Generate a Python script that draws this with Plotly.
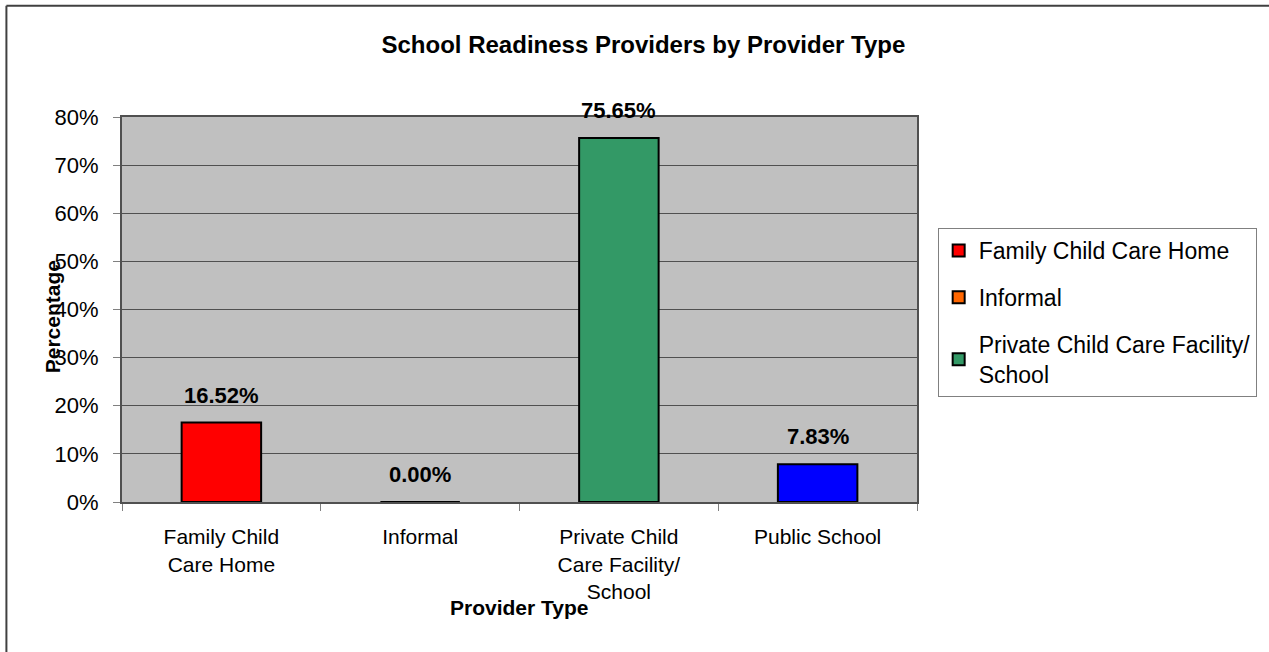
import plotly.graph_objects as go

categories = ["Family Child<br>Care Home", "Informal", "Private Child<br>Care Facility/<br>School", "Public School"]
series_names = ["Family Child Care Home", "Informal", "Private Child Care Facility/<br>School", "Public School"]
values = [16.52, 0.00, 75.65, 7.83]
colors = ["#FF0000", "#FF6600", "#339966", "#0000FF"]
show_in_legend = [True, True, True, False]
y_ticks = [0, 10, 20, 30, 40, 50, 60, 70, 80]
y_tick_labels = [f"{v}%" for v in y_ticks]

FONT = "Liberation Sans, Arial, sans-serif"

fig = go.Figure()
for i, cat in enumerate(categories):
    fig.add_trace(go.Bar(
        x=[cat], y=[values[i]], name=series_names[i],
        marker=dict(color=colors[i], line=dict(color="#000000", width=2)),
        width=0.4, showlegend=show_in_legend[i], legendgroup=f"g{i}",
        hoverinfo="skip",
    ))
    fig.add_annotation(x=cat, y=values[i], text=f"<b>{values[i]:.2f}%</b>",
                       showarrow=False, yanchor="bottom", yshift=13,
                       font=dict(family=FONT, size=22, color="#000000"))

fig.add_annotation(x=-0.088, y=0.48, xref="paper", yref="paper", text="<b>Percentage</b>",
                   textangle=-90, showarrow=False, xanchor="center", yanchor="middle",
                   font=dict(family=FONT, size=21, color="#000000"))
fig.add_annotation(x=0.5, y=-0.275, xref="paper", yref="paper", text="<b>Provider Type</b>",
                   showarrow=False, xanchor="center", yanchor="middle",
                   font=dict(family=FONT, size=21, color="#000000"))

# outer frame
fig.add_shape(type="line", xref="paper", yref="paper", x0=-0.1454, x1=1.5, y0=1.2888, y1=1.2888,
              line=dict(color="#404040", width=2))
fig.add_shape(type="line", xref="paper", yref="paper", x0=-0.1454, x1=-0.1454, y0=1.2888, y1=-0.5,
              line=dict(color="#404040", width=2))

fig.update_layout(
    width=1269, height=652,
    margin=dict(l=122, r=349, t=117, b=150),
    paper_bgcolor="#FFFFFF", plot_bgcolor="#C0C0C0",
    bargap=0.6,
    title=dict(text="<b>School Readiness Providers by Provider Type</b>", x=0.507, xref="container",
               xanchor="center", y=0.931, yref="container", yanchor="middle",
               font=dict(family=FONT, size=24, color="#000000")),
    font=dict(family=FONT, size=22, color="#000000"),
    legend=dict(x=1.026, y=0.7117, xanchor="left", yanchor="top",
                bordercolor="#808080", borderwidth=1, bgcolor="#FFFFFF",
                font=dict(family=FONT, size=23, color="#000000"),
                tracegroupgap=14, traceorder="grouped"),
    xaxis=dict(type="category", categoryorder="array", categoryarray=categories,
               showline=True, linecolor="#505050", linewidth=2, mirror=True,
               ticks="outside", ticklen=7, tickcolor="#808080", tickson="boundaries",
               ticklabelstandoff=15, tickfont=dict(family=FONT, size=21),
               showgrid=False, fixedrange=True),
    yaxis=dict(range=[0, 80], tickvals=y_ticks, ticktext=y_tick_labels,
               showline=True, linecolor="#505050", linewidth=2, mirror=True,
               ticks="outside", ticklen=7, tickcolor="#808080",
               ticklabelstandoff=10, tickfont=dict(family=FONT, size=22),
               showgrid=True, gridcolor="#505050", gridwidth=1, zeroline=False, fixedrange=True),
)

fig.write_html("out.html")
